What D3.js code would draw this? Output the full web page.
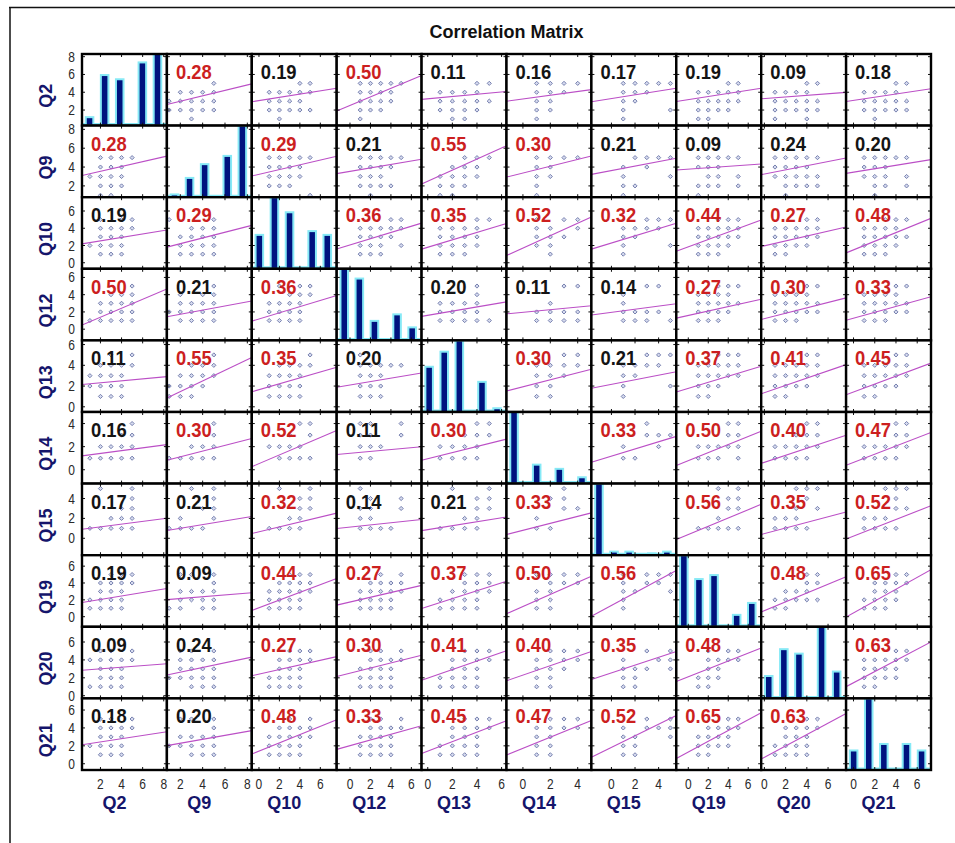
<!DOCTYPE html>
<html><head><meta charset="utf-8">
<script src="https://cdn.jsdelivr.net/npm/d3@7"></script>
<style>body{margin:0;background:#fff}svg{display:block}</style>
</head><body>
<svg id="c" width="955" height="843"></svg>
<script>
// ---------------- DATA ----------------
const variables = ["Q2","Q9","Q10","Q12","Q13","Q14","Q15","Q19","Q20","Q21"];
const axisLo = [0.25, 0.8, -0.7, -1.3, -0.5, -1.2, -1.7, -1.2, -0.3, -0.7];
const axisHi = [8.3, 8.4, 7.6, 7.0, 6.4, 5.0, 5.5, 7.3, 7.7, 7.3];
const tickValues = [[2,4,6,8],[2,4,6,8],[0,2,4,6],[0,2,4,6],[0,2,4,6],[0,2,4],[0,2,4],[0,2,4,6],[0,2,4,6],[0,2,4,6]];
const histBinDomain = [-1, 10.25];
const histCounts = [
  [2,0,12,0,11,0,0,15,0,17],
  [1,0,7,0,12,0,0,15,0,26],
  [9,0,19,0,15,0,0,10,0,9],
  [22,0,19,0,6,0,0,8,0,4],
  [12,0,16,0,19,0,0,8,0,1],
  [34,0,0,9,0,0,7,0,0,3],
  [40,0,2,0,2,0,0,1,0,2],
  [18,0,12,0,13,0,0,3,0,6],
  [5,0,11,0,10,0,0,16,0,6],
  [6,0,22,0,8,0,0,8,0,6]
];
const corrRows = [
  [0.28,0.19,0.50,0.11,0.16,0.17,0.19,0.09,0.18],
  [0.29,0.21,0.55,0.30,0.21,0.09,0.24,0.20],
  [0.36,0.35,0.52,0.32,0.44,0.27,0.48],
  [0.20,0.11,0.14,0.27,0.30,0.33],
  [0.30,0.21,0.37,0.41,0.45],
  [0.33,0.50,0.40,0.47],
  [0.56,0.35,0.52],
  [0.48,0.65],
  [0.63]
];
// scatter points of the upper-triangle cells: token "xy" (x = column variable value, y = row variable value)
const pairPoints = [
  "55 24 34 44 54 13 23 33 43 53 12 22 32 42 52 31",
  "45 55 14 24 34 44 54 13 23 33 43 12 22 32 42 52 21",
  "55 43 44 45 32 33 34 35 22 23 24 25 11 12 13 14 15",
  "45 55 14 24 34 44 13 23 33 43 53 12 22 32 42 21 31",
  "45 35 22 24 25 11 12 13 14 15 23 34",
  "25 35 45 55 14 24 34 13 23 12 52 11 15",
  "45 55 14 24 34 44 54 13 23 33 43 53 12 22 32 42 11 21",
  "45 55 14 24 34 44 13 23 33 43 53 12 22 32 42 52 11 41",
  "45 55 14 24 34 44 13 23 33 43 53 12 22 32 42 52 21",
  "51 55 43 44 45 32 33 34 35 22 23 24 25 12 13 14 15",
  "55 42 44 45 32 33 34 35 21 22 23 24 25 12 13 14 15",
  "35 45 55 24 34 44 13 23 33 43 12 22 32 11 21",
  "45 35 23 24 25 11 12 13 14 15",
  "25 35 45 55 14 34 13 53 12 22 11",
  "15 25 35 45 55 14 24 34 23 33 53 12 22 32 52 11",
  "15 25 35 45 55 14 24 34 44 13 23 33 43 53 22 32 42 52 21",
  "15 25 35 45 55 14 24 34 13 23 33 53 22 32 52 21",
  "45 55 14 24 34 44 54 13 23 33 43 12 22 32 52 11 21 31",
  "45 55 14 24 34 44 13 23 33 43 12 22 32 42 11 21 31",
  "45 35 21 22 23 24 12 13 14 15 33 44",
  "35 45 55 14 24 34 44 13 23 12 52 11",
  "35 45 55 14 24 34 44 54 13 23 33 43 53 12 22 32 42 11 21 31",
  "45 55 14 24 34 44 54 13 23 33 43 53 12 22 32 42 11 21",
  "35 45 55 14 24 34 44 13 23 33 43 53 12 22 32 42 11 21 31",
  "45 44 13 23 33 43 12 22 32 42 11 21 31 41 51",
  "45 35 12 22 32 42 11 21 31 41 23",
  "35 45 14 13 12 22 32 42 11 21 31 51",
  "35 45 55 14 24 34 44 13 23 33 43 53 12 22 32 42 11 21 31",
  "45 55 14 24 34 44 13 23 33 43 53 12 22 32 42 52 11 21 31",
  "45 55 14 24 34 44 13 23 33 43 53 12 22 32 42 52 11 21 31",
  "45 35 44 14 24 34 13 23 33 12 22 11 21",
  "35 45 55 14 24 34 44 13 23 12 52 11",
  "35 45 55 14 24 34 44 54 13 23 33 43 53 12 22 32 11 21",
  "45 55 14 24 34 44 54 13 23 33 43 53 12 22 32 42 11 21",
  "45 55 14 24 34 44 54 13 23 33 43 53 12 22 32 42 11 21",
  "34 33 43 53 12 42 11 21",
  "44 54 43 53 12 22 32 42 52 11 21 31 51",
  "44 54 33 43 53 12 22 32 42 52 11 21 31 41",
  "44 54 43 53 12 22 32 42 52 11 21 31 41",
  "35 55 44 54 43 53 32 11 21 31 41 51",
  "35 45 55 44 33 53 12 22 32 11 21 31 41",
  "35 45 55 44 43 53 12 22 32 11 21 31 41",
  "45 55 44 54 23 33 43 12 22 32 42 52 11 21",
  "45 55 24 34 44 54 23 33 43 12 22 32 42 11 21 31",
  "45 55 14 24 34 44 54 13 23 33 43 12 22 32 42 11 21"
];
const titleText = "Correlation Matrix";

// ---------------- LAYOUT ----------------
const FONT = '"Liberation Sans", Arial, Helvetica, sans-serif';
const svg = d3.select('#c');
const n = variables.length;
const gx0 = 82, gx1 = 931, gy0 = 54, gy1 = 770;
const cw = (gx1 - gx0) / n, ch = (gy1 - gy0) / n;

const xS = variables.map((v,k) => d3.scaleLinear().domain([axisLo[k], axisHi[k]]).range([gx0 + k*cw, gx0 + (k+1)*cw]));
const yS = variables.map((v,k) => d3.scaleLinear().domain([axisLo[k], axisHi[k]]).range([gy0 + (k+1)*ch, gy0 + k*ch]));

function corr(i, j) { const a = Math.min(i,j), b = Math.max(i,j); return corrRows[a][b-a-1]; }
const pairMap = {};
{ let p = 0; for (let i=0;i<n;i++) for (let j=i+1;j<n;j++) pairMap[i+'-'+j] = pairPoints[p++].split(' ').map(t => [+t[0], +t[1]]); }
function points(r, c) {
  if (r < c) return pairMap[r+'-'+c].map(([x,y]) => ({x, y}));
  return pairMap[c+'-'+r].map(([x,y]) => ({x: y, y: x}));
}
const stats = histCounts.map(h => {
  const lv = h.filter(c => c > 0);
  const N = d3.sum(lv);
  const m = d3.sum(lv, (c,i) => c*(i+1)) / N;
  const v = d3.sum(lv, (c,i) => c*(i+1-m)*(i+1-m)) / N;
  return {m, s: Math.sqrt(v)};
});

svg.append('rect').attr('width',955).attr('height',843).attr('fill','#fff');
const defs = svg.append('defs');

// frame
svg.append('line').attr('x1',9).attr('x2',955).attr('y1',7.5).attr('y2',7.5).attr('stroke','#111').attr('stroke-width',1.5);
svg.append('line').attr('x1',10).attr('x2',10).attr('y1',7).attr('y2',843).attr('stroke','#111').attr('stroke-width',1.5);

// title
svg.append('text').attr('x', (gx0+gx1)/2).attr('y', 38).attr('text-anchor','middle')
  .attr('font-family', FONT).attr('font-weight','bold').attr('font-size',18).attr('fill','#111').text(titleText);

function scaledText(parent, x, y, sx, txt) {
  return parent.append('text').attr('transform', `translate(${x},${y}) scale(${sx},1)`).text(txt);
}

for (let r=0; r<n; r++) {
  for (let c=0; c<n; c++) {
    const x0 = gx0 + c*cw, y0 = gy0 + r*ch;
    const id = `cl-${r}-${c}`;
    defs.append('clipPath').attr('id', id).append('rect').attr('x',x0).attr('y',y0).attr('width',cw).attr('height',ch);
    const g = svg.append('g');
    g.append('rect').attr('x',x0).attr('y',y0).attr('width',cw).attr('height',ch).attr('fill','#fff');
    const inner = g.append('g').attr('clip-path', `url(#${id})`);
    if (r === c) {
      const hx = d3.scaleLinear().domain(histBinDomain).range([x0, x0+cw]);
      const hy = d3.scaleLinear().domain([0, d3.max(histCounts[r])]).range([y0+ch, y0]);
      const bins = histCounts[r].map((cnt,b) => ({b, cnt})).filter(d => d.cnt > 0);
      inner.append('line').attr('x1',x0).attr('x2',x0+cw).attr('y1',y0+ch-1.5).attr('y2',y0+ch-1.5)
        .attr('stroke','#86e9f6').attr('stroke-width',2);
      inner.selectAll('rect.bar').data(bins).join('rect').attr('class','bar')
        .attr('x', d => hx(d.b-0.5)).attr('width', d => hx(d.b+0.5)-hx(d.b-0.5))
        .attr('y', d => hy(d.cnt)).attr('height', d => hy(0)-hy(d.cnt))
        .attr('fill','#00137f').attr('stroke','#86e9f6').attr('stroke-width',2);
    } else {
      const pts = points(r, c);
      inner.selectAll('path.dot').data(pts).join('path').attr('class','dot')
        .attr('d', d3.symbol(d3.symbolDiamond2, 11))
        .attr('transform', d => `translate(${xS[c](d.x)},${yS[r](d.y)})`)
        .attr('fill','#d6dbef').attr('stroke','#6a74a6').attr('stroke-width',0.9);
      const rv = corr(r, c);
      const slope = rv * stats[r].s / stats[c].s;
      const lineData = xS[c].domain().map(xv => [xS[c](xv), yS[r](stats[r].m + slope*(xv - stats[c].m))]);
      inner.append('path').attr('d', d3.line()(lineData)).attr('fill','none')
        .attr('stroke','#bb4fc6').attr('stroke-width',1.1);
      const t = scaledText(inner, x0+9, y0+25, 0.92, d3.format('.2f')(rv));
      t.attr('font-family', FONT).attr('font-weight','bold').attr('font-size',20)
        .attr('fill', rv >= 0.25 ? '#cc1f1f' : '#141414');
    }
    // inner ticks
    let dp = '';
    tickValues[c].forEach(v => { const xx = xS[c](v); if (xx > x0+1 && xx < x0+cw-1) dp += `M${xx},${y0}v3M${xx},${y0+ch}v-3`; });
    tickValues[r].forEach(v => { const yy = yS[r](v); if (yy > y0+1 && yy < y0+ch-1) dp += `M${x0},${yy}h3M${x0+cw},${yy}h-3`; });
    g.append('path').attr('d', dp).attr('stroke','#111').attr('stroke-width',1).attr('fill','none');
    g.append('rect').attr('x',x0).attr('y',y0).attr('width',cw).attr('height',ch)
      .attr('fill','none').attr('stroke','#000').attr('stroke-width',2.4);
  }
}

// axis tick labels
const axg = svg.append('g').attr('font-family', FONT).attr('font-size',15).attr('fill','#2a2a2a');
variables.forEach((v,k) => {
  tickValues[k].forEach(tv => {
    scaledText(axg, xS[k](tv), 789, 0.8, d3.format('d')(tv)).attr('text-anchor','middle');
    scaledText(axg, 75, yS[k](tv)+5, 0.8, d3.format('d')(tv)).attr('text-anchor','end');
  });
});

// variable labels
const lg = svg.append('g').attr('font-family', FONT).attr('font-weight','bold').attr('font-size',18).attr('fill','#15156b');
variables.forEach((v,k) => {
  lg.append('text').attr('x', gx0 + (k+0.5)*cw - 10).attr('y', 809).attr('text-anchor','middle').text(v);
  lg.append('text').attr('transform', `translate(52,${gy0 + (k+0.5)*ch + 6}) rotate(-90)`).attr('text-anchor','middle').text(v);
});
</script>
</body></html>
